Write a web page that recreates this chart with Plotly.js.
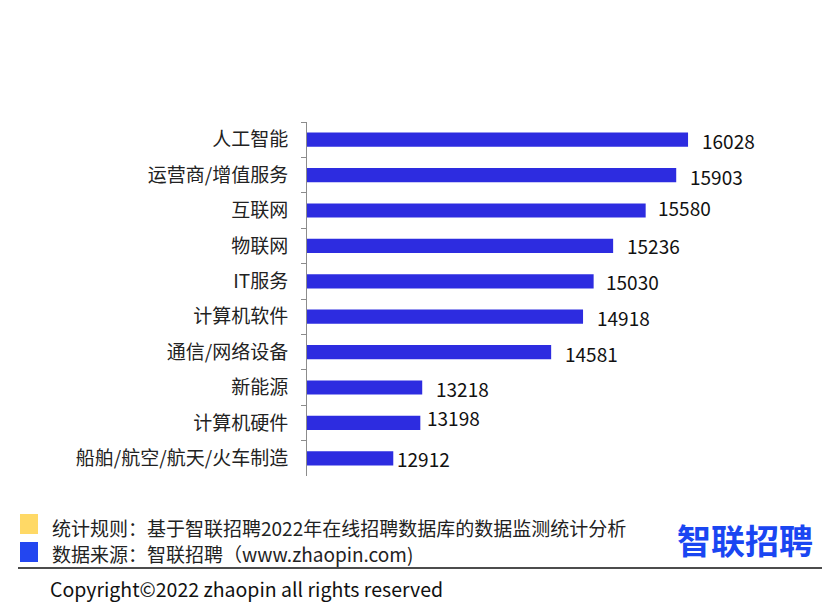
<!DOCTYPE html>
<html>
<head>
<meta charset="utf-8">
<script src="https://cdn.plot.ly/plotly-3.0.1.min.js"></script>
<style>html,body{margin:0;padding:0;background:#fff;}#chart{width:838px;height:614px;}</style>
</head>
<body>
<div id="chart"></div>
<script>
// ---- data ----
const categories = ["人工智能","运营商/增值服务","互联网","物联网","IT服务","计算机软件","通信/网络设备","新能源","计算机硬件","船舶/航空/航天/火车制造"];
const salaries = [16028,15903,15580,15236,15030,14918,14581,13218,13198,12912];
const footnoteRule = "统计规则：基于智联招聘2022年在线招聘数据库的数据监测统计分析";
const footnoteSource = "数据来源：智联招聘（www.zhaopin.com)";
const copyrightText = "Copyright©2022 zhaopin all rights reserved";
const logoText = "智联招聘";

// ---- label nudges (style only) ----
const labelDX = [12,12,10,12,10,12,12,12,5,2];
const labelDY = [-1,-1,3,0,0,-1,-1,-1,5,0];

const FONT = '"Noto Sans CJK SC", "Noto Sans", sans-serif';
const L = 307, R = 780, T = 122, B = 476;
const W = 838, H = 614;
const px = v => (v - L) / (R - L);
const py = v => (B - v) / (B - T);

const trace = {
  type: 'bar', orientation: 'h',
  x: salaries, y: categories,
  marker: {color: '#2d2ce0'},
  hoverinfo: 'x+y'
};

const annotations = salaries.map((v, i) => ({
  x: v, y: categories[i], xref: 'x', yref: 'y',
  text: String(v), showarrow: false, xanchor: 'left', yanchor: 'middle',
  xshift: labelDX[i], yshift: labelDY[i],
  font: {family: FONT, size: 19, color: '#111'}
}));

annotations.push(
  {xref:'paper', yref:'paper', x: px(50), y: py(527), xanchor:'left', yanchor:'middle', showarrow:false,
   text: footnoteRule, font:{family:FONT, size:19, color:'#222'}},
  {xref:'paper', yref:'paper', x: px(50), y: py(553), xanchor:'left', yanchor:'middle', showarrow:false,
   text: footnoteSource, font:{family:FONT, size:19, color:'#222'}},
  {xref:'paper', yref:'paper', x: px(48), y: py(588), xanchor:'left', yanchor:'middle', showarrow:false,
   text: copyrightText, font:{family:FONT, size:19.5, color:'#111'}},
  {xref:'paper', yref:'paper', x: px(675), y: py(539), xanchor:'left', yanchor:'middle', showarrow:false,
   text: '<b>' + logoText + '</b>', font:{family:FONT, size:34, color:'#1a46f2'}}
);

const shapes = [
  {type:'rect', xref:'paper', yref:'paper', x0:px(20), x1:px(38), y0:py(514), y1:py(534),
   fillcolor:'#ffd966', line:{width:0}},
  {type:'rect', xref:'paper', yref:'paper', x0:px(20), x1:px(38), y0:py(542), y1:py(562),
   fillcolor:'#2346f0', line:{width:0}},
  {type:'line', xref:'paper', yref:'paper', x0:px(18), x1:px(822), y0:py(568), y1:py(568),
   line:{color:'#111', width:1.5}}
];

const layout = {
  width: W, height: H,
  margin: {l: L, r: W - R, t: T, b: H - B, pad: 0},
  paper_bgcolor: '#fff', plot_bgcolor: '#fff',
  showlegend: false,
  bargap: 0.6,
  xaxis: {range: [12000, 17000], visible: false, fixedrange: true},
  yaxis: {
    autorange: 'reversed', type: 'category',
    showline: true, linecolor: '#8c8c8c', linewidth: 1,
    ticks: 'outside', tickson: 'boundaries', ticklen: 5, tickcolor: '#8c8c8c', tickwidth: 1,
    showgrid: false, zeroline: false,
    ticklabelstandoff: 14,
    tickfont: {family: FONT, size: 19, color: '#222'}
  },
  annotations: annotations,
  shapes: shapes
};

Plotly.newPlot('chart', [trace], layout, {displayModeBar: false, staticPlot: true});
</script>
</body>
</html>
